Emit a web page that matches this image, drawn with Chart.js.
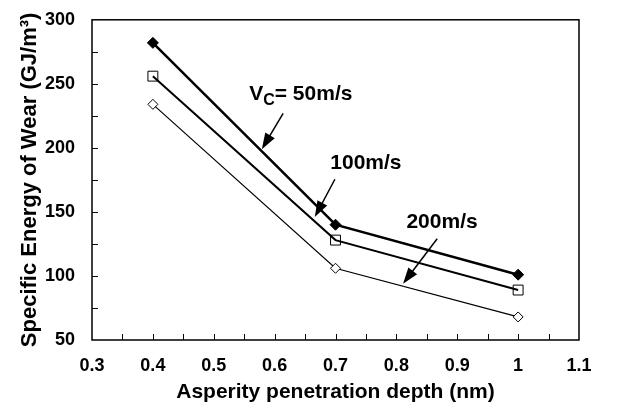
<!DOCTYPE html>
<html>
<head>
<meta charset="utf-8">
<script src="https://cdn.jsdelivr.net/npm/chart.js@4.4.1/dist/chart.umd.min.js"></script>
<style>
  html, body { margin: 0; padding: 0; background: #fff; }
  canvas { display: block; }
</style>
</head>
<body>
<canvas id="wearChart" width="618" height="410"></canvas>
<script>
// Données du graphique
const depths = [0.4, 0.7, 1.0];
const wear50 = [282, 140, 101];
const wear100 = [256, 128, 89];
const wear200 = [234, 106, 68];

const xTicks = [0.3, 0.4, 0.5, 0.6, 0.7, 0.8, 0.9, 1.0, 1.1];
const yTicks = [50, 100, 150, 200, 250, 300];

// Étiquettes avec flèches (coordonnées en valeurs de données)
const notes = [
  { text: "V", sub: "C", rest: "= 50m/s", at: [0.643, 242], from: [0.614, 227], to: [0.579, 199] },
  { text: "100m/s", at: [0.75, 188], from: [0.699, 175.5], to: [0.666, 146] },
  { text: "200m/s", at: [0.875, 142], from: [0.867, 129], to: [0.811, 94] },
];

const family = "'Liberation Sans', Arial, sans-serif";
const noteFont = "bold 21px " + family;
const subFont = "bold 16px " + family;

function toPoints(values) {
  return depths.map((d, i) => ({ x: d, y: values[i] }));
}

// Cadre, graduations internes et annotations
const decorPlugin = {
  id: "decor",
  beforeDraw(chart) {
    const ctx = chart.ctx;
    ctx.save();
    ctx.fillStyle = "#fff";
    ctx.fillRect(0, 0, chart.width, chart.height);
    ctx.restore();
  },
  afterDatasetsDraw(chart) {
    const { ctx, chartArea: a, scales } = chart;
    const xs = scales.x, ys = scales.y;
    ctx.save();
    ctx.strokeStyle = "#000";
    ctx.lineWidth = 1.5;
    ctx.strokeRect(a.left, a.top, a.right - a.left, a.bottom - a.top);

    // graduations (majeures et mineures)
    ctx.lineWidth = 1;
    ctx.beginPath();
    for (let v = 0.35; v < 1.1; v += 0.05) {
      const px = Math.round(xs.getPixelForValue(v)) + 0.5;
      ctx.moveTo(px, a.bottom);
      ctx.lineTo(px, a.bottom - 6);
    }
    for (let v = 75; v < 300; v += 25) {
      const py = Math.round(ys.getPixelForValue(v)) + 0.5;
      ctx.moveTo(a.left, py);
      ctx.lineTo(a.left + 6, py);
    }
    ctx.stroke();

    // annotations
    ctx.fillStyle = "#000";
    ctx.textBaseline = "middle";
    notes.forEach(n => {
      const tx = xs.getPixelForValue(n.at[0]);
      const ty = ys.getPixelForValue(n.at[1]);
      ctx.font = noteFont;
      if (n.sub) {
        const w1 = ctx.measureText(n.text).width;
        const w3 = ctx.measureText(n.rest).width;
        ctx.font = subFont;
        const w2 = ctx.measureText(n.sub).width;
        const x = tx - (w1 + w2 + w3) / 2;
        ctx.textAlign = "left";
        ctx.font = noteFont;
        ctx.fillText(n.text, x, ty);
        ctx.font = subFont;
        ctx.fillText(n.sub, x + w1, ty + 7);
        ctx.font = noteFont;
        ctx.fillText(n.rest, x + w1 + w2, ty);
      } else {
        ctx.textAlign = "center";
        ctx.fillText(n.text, tx, ty);
      }

      const x1 = xs.getPixelForValue(n.from[0]), y1 = ys.getPixelForValue(n.from[1]);
      const x2 = xs.getPixelForValue(n.to[0]), y2 = ys.getPixelForValue(n.to[1]);
      const ang = Math.atan2(y2 - y1, x2 - x1);
      const headLen = 16, headW = 5.5;
      ctx.lineWidth = 1.5;
      ctx.beginPath();
      ctx.moveTo(x1, y1);
      ctx.lineTo(x2 - Math.cos(ang) * headLen * 0.8, y2 - Math.sin(ang) * headLen * 0.8);
      ctx.stroke();
      ctx.beginPath();
      ctx.moveTo(x2, y2);
      ctx.lineTo(x2 - Math.cos(ang) * headLen - Math.sin(ang) * headW,
                 y2 - Math.sin(ang) * headLen + Math.cos(ang) * headW);
      ctx.lineTo(x2 - Math.cos(ang) * headLen + Math.sin(ang) * headW,
                 y2 - Math.sin(ang) * headLen - Math.cos(ang) * headW);
      ctx.closePath();
      ctx.fill();
    });
    ctx.restore();
  },
};

const chartData = {
  datasets: [
    {
      label: "50m/s",
      data: toPoints(wear50),
      borderColor: "#000",
      borderWidth: 2.5,
      pointStyle: "rectRot",
      pointRadius: 5.5,
      pointBackgroundColor: "#000",
      pointBorderColor: "#000",
      pointBorderWidth: 1,
    },
    {
      label: "100m/s",
      data: toPoints(wear100),
      borderColor: "#000",
      borderWidth: 2,
      pointStyle: "rect",
      pointRadius: 7,
      pointBackgroundColor: "rgba(255,255,255,0)",
      pointBorderColor: "#000",
      pointBorderWidth: 1,
    },
    {
      label: "200m/s",
      data: toPoints(wear200),
      borderColor: "#000",
      borderWidth: 1.2,
      pointStyle: "rectRot",
      pointRadius: 5,
      pointBackgroundColor: "#fff",
      pointBorderColor: "#000",
      pointBorderWidth: 1,
    },
  ],
};

const chartConfig = {
  type: "line",
  data: chartData,
  options: {
    responsive: false,
    animation: false,
    devicePixelRatio: 1,
    layout: { padding: { top: 15, right: 39, left: 0, bottom: 0 } },
    plugins: { legend: { display: false }, tooltip: { enabled: false } },
    scales: {
      x: {
        type: "linear",
        min: 0.3,
        max: 1.1,
        afterBuildTicks: s => { s.ticks = xTicks.map(v => ({ value: v })); },
        afterFit: s => { s.height = 70; },
        grid: { display: false },
        border: { display: false },
        ticks: {
          color: "#000",
          font: { family: family, size: 18, weight: "bold" },
          padding: 7,
          maxRotation: 0,
          autoSkip: false,
          callback: v => String(+v.toFixed(1)),
        },
        title: {
          display: true,
          text: "Asperity penetration depth (nm)",
          color: "#000",
          font: { family: family, size: 21, weight: "bold" },
          padding: { top: 0, bottom: 5 },
        },
      },
      y: {
        min: 50,
        max: 300,
        afterBuildTicks: s => { s.ticks = yTicks.map(v => ({ value: v })); },
        afterFit: s => { s.width = 92; },
        grid: { display: false },
        border: { display: false },
        ticks: {
          color: "#000",
          font: { family: family, size: 18, weight: "bold" },
          padding: 9,
        },
        title: {
          display: true,
          text: "Specific Energy of Wear (GJ/m³)",
          color: "#000",
          font: { family: family, size: 22, weight: "bold" },
          padding: { top: 17, bottom: 0 },
        },
      },
    },
  },
  plugins: [decorPlugin],
};

const wearChartElement = document.getElementById("wearChart");
if (wearChartElement) {
  new Chart(wearChartElement, chartConfig);
}
</script>
</body>
</html>
